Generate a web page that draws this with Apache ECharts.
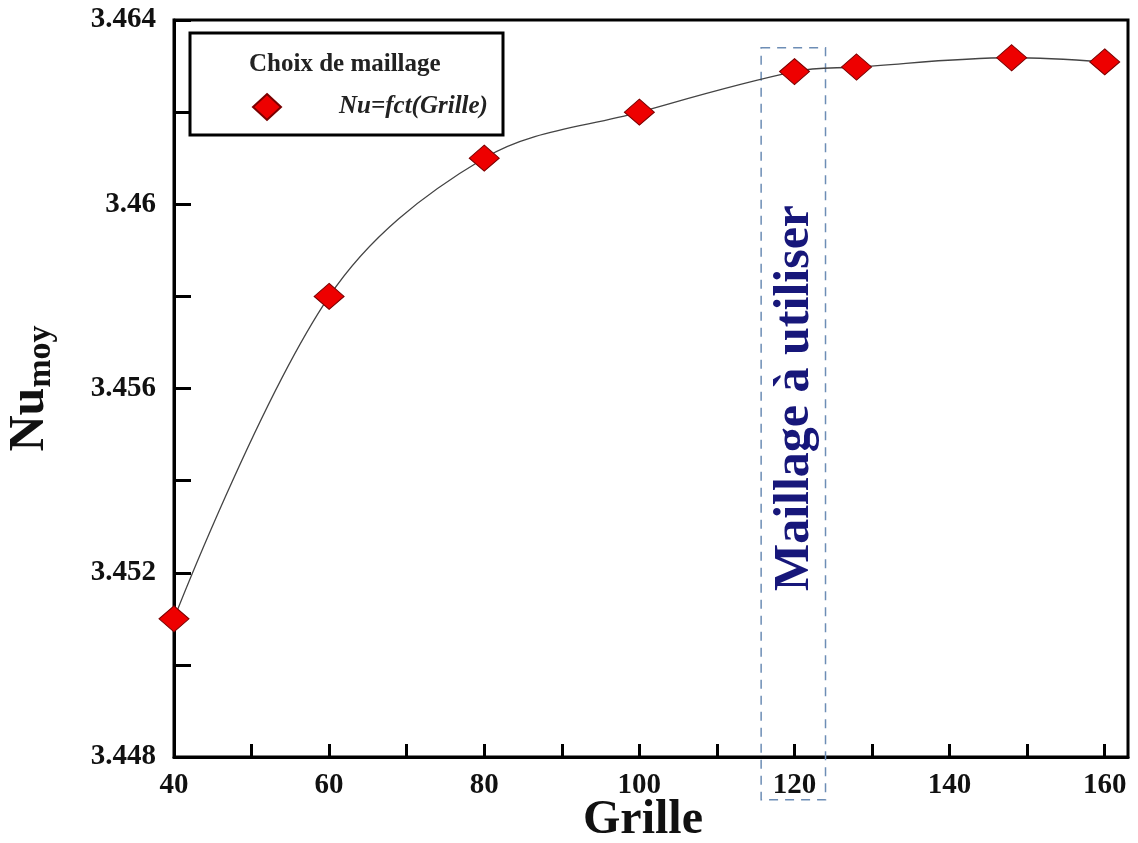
<!DOCTYPE html>
<html>
<head>
<meta charset="utf-8">
<script src="https://cdn.jsdelivr.net/npm/echarts@6/dist/echarts.min.js"></script>
<style>
  html, body { margin: 0; padding: 0; background: #fff; }
  #main { width: 1138px; height: 843px; }
</style>
</head>
<body>
<div id="main"></div>
<script>
// grid sizes and Nusselt values
var grille = [40, 60, 80, 100, 120, 128, 148, 160];
var nuMoy = [3.4510, 3.4580, 3.4610, 3.4620, 3.46288, 3.46298, 3.46318, 3.46309];
var seriesName = 'Nu=fct(Grille)';
var legendTitle = 'Choix de maillage';
var boxLabel = 'Maillage à utiliser';
// the dashed box around the retained mesh (x range, y range in data units)
var boxX = [115.7, 124];
var boxY = [3.4634, 3.44707];

var serif = '"Liberation Serif", "Times New Roman", serif';

var chart = echarts.init(document.getElementById('main'), null, { renderer: 'canvas' });

var points = [];
for (var i = 0; i < grille.length; i++) {
    points.push([grille[i], nuMoy[i]]);
}

var option = {
    animation: false,
    backgroundColor: '#fff',
    grid: {
        left: 174, right: 10, top: 20, bottom: 86,
        outerBoundsMode: 'none',
        containLabel: false,
        show: true, borderColor: '#000', borderWidth: 3,
        backgroundColor: 'transparent'
    },
    legend: {
        data: [{ name: seriesName, icon: 'diamond' }],
        left: 252, top: 93, padding: 0,
        itemWidth: 28, itemHeight: 26,
        textStyle: {
            fontFamily: serif, fontSize: 25, fontStyle: 'italic', fontWeight: 'bold',
            color: '#222', padding: [0, 0, 0, 53]
        }
    },
    xAxis: {
        type: 'value',
        min: 40, max: 163, interval: 10,
        name: 'Grille',
        nameLocation: 'middle',
        nameGap: 40,
        nameMoveOverlap: false,
        nameTextStyle: {
            fontFamily: serif, fontSize: 48, fontWeight: 'bold', color: '#111',
            padding: [0, 16, 0, 0]
        },
        axisLine: { lineStyle: { color: '#000', width: 3 } },
        axisTick: { inside: true, length: 13, lineStyle: { color: '#000', width: 3 } },
        axisLabel: {
            fontFamily: serif, fontSize: 29, fontWeight: 'bold', color: '#111', margin: 14,
            showMaxLabel: false,
            formatter: function (v) { return v % 20 === 0 ? String(v) : ''; }
        },
        splitLine: { show: false }
    },
    yAxis: {
        type: 'value',
        min: 3.448, max: 3.464, interval: 0.002,
        name: '{a|Nu}{b|moy}',
        nameLocation: 'middle',
        nameRotate: 90,
        nameGap: 116,
        nameMoveOverlap: false,
        nameTextStyle: {
            rich: {
                a: { fontFamily: serif, fontSize: 50, fontWeight: 'bold', color: '#111' },
                b: { fontFamily: serif, fontSize: 34, fontWeight: 'bold', color: '#111', padding: [22, 0, 0, 0] }
            }
        },
        axisLine: { lineStyle: { color: '#000', width: 3 } },
        axisTick: { inside: true, length: 17, lineStyle: { color: '#000', width: 3 } },
        axisLabel: {
            fontFamily: serif, fontSize: 29, fontWeight: 'bold', color: '#111', margin: 18,
            formatter: function (v) {
                return Math.round(v * 1000) % 4 === 0 ? String(+v.toFixed(3)) : '';
            }
        },
        splitLine: { show: false }
    },
    series: [{
        name: seriesName,
        type: 'line',
        data: points,
        smooth: 0.35,
        symbol: 'diamond',
        symbolSize: [30, 26],
        lineStyle: { color: '#444', width: 1.3 },
        itemStyle: { color: '#ee0000', borderColor: '#7a0000', borderWidth: 1 },
        z: 3
    }]
};

chart.setOption(option);

// annotation box, label and legend frame placed from data coordinates
var p1 = chart.convertToPixel({ gridIndex: 0 }, [boxX[0], boxY[0]]);
var p2 = chart.convertToPixel({ gridIndex: 0 }, [boxX[1], boxY[1]]);
var cx = (p1[0] + p2[0]) / 2;

chart.setOption({
    graphic: [
        {
            type: 'rect',
            shape: { x: 190, y: 33, width: 313, height: 102 },
            style: { fill: '#fff', stroke: '#000', lineWidth: 3 },
            z: 1
        },
        {
            type: 'text',
            left: 249, top: 52,
            style: { text: legendTitle, font: 'bold 25px ' + serif, fill: '#222' },
            z: 2
        },
        {
            type: 'rect',
            shape: { x: p1[0], y: p1[1], width: p2[0] - p1[0], height: p2[1] - p1[1] },
            style: { fill: 'none', stroke: '#6d8db5', lineWidth: 1.5, lineDash: [9, 7] },
            z: 2
        },
        {
            type: 'text',
            x: cx + 2, y: 398,
            rotation: Math.PI / 2,
            style: {
                text: boxLabel, font: 'bold 50px ' + serif, fill: '#17177a',
                textAlign: 'center', textVerticalAlign: 'middle'
            },
            z: 2
        }
    ]
});

window.addEventListener('resize', chart.resize);
</script>
</body>
</html>
